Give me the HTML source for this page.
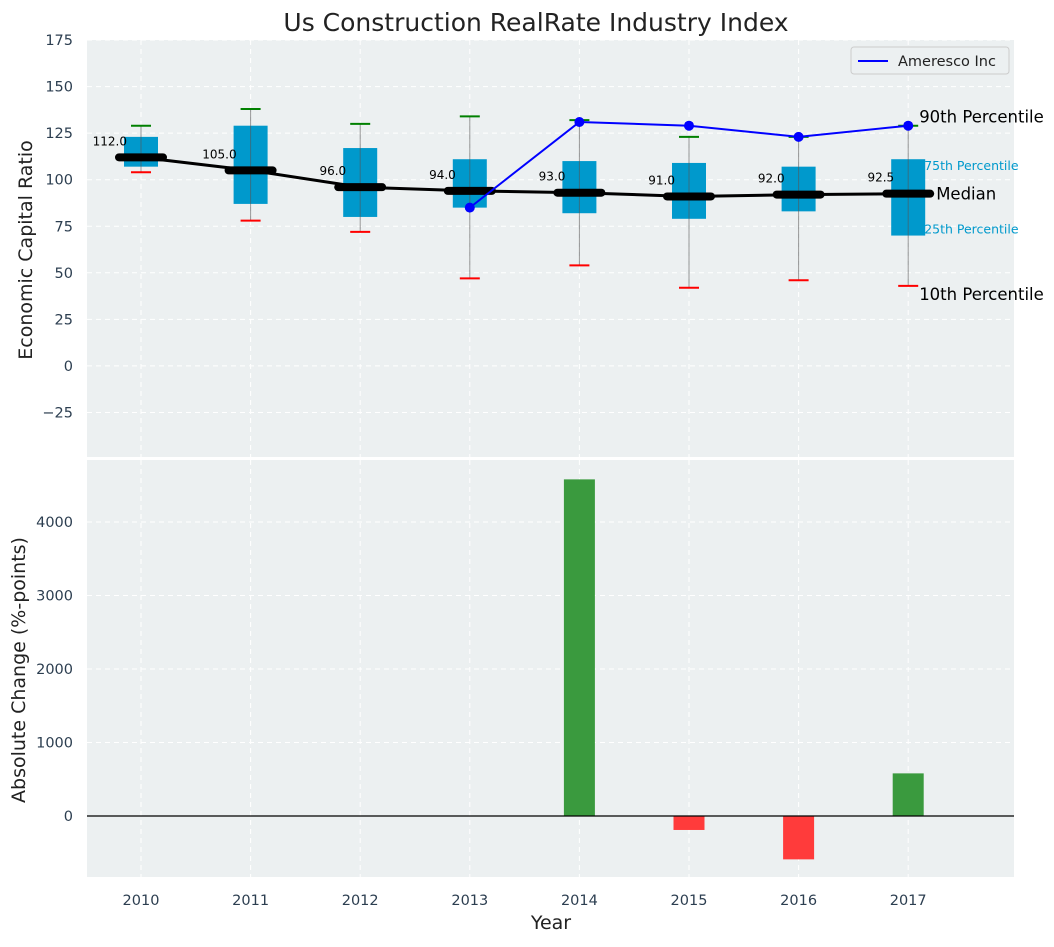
<!DOCTYPE html>
<html><head><meta charset="utf-8"><style>
body{margin:0;background:#fff;font-family:"Liberation Sans","DejaVu Sans",sans-serif}
svg text{font-family:"DejaVu Sans","Liberation Sans",sans-serif}
</style></head><body>
<svg id="chart" width="1054" height="942" xmlns="http://www.w3.org/2000/svg">
<text x="536" y="31" text-anchor="middle" font-size="25" fill="#222">Us Construction RealRate Industry Index</text>
<rect x="87" y="40" width="927" height="417" fill="#ecf0f1"/>
<rect x="87" y="460" width="927" height="417" fill="#ecf0f1"/>
<g id="topg"></g><g id="botg"></g>
<text x="32" y="250" transform="rotate(-90 32 250)" text-anchor="middle" font-size="19" fill="#222">Economic Capital Ratio</text>
<text x="25" y="670" transform="rotate(-90 25 670)" text-anchor="middle" font-size="19" fill="#222">Absolute Change (%-points)</text>
<text x="551" y="929" text-anchor="middle" font-size="19" fill="#222">Year</text>
<g>
<rect x="851" y="47" width="158" height="27" rx="3" fill="#ecf0f1" stroke="#ccc"/>
<line x1="858" y1="61" x2="888" y2="61" stroke="blue" stroke-width="2"/>
<text x="898" y="66" font-size="14.5" fill="#222">Ameresco Inc</text>
</g>
</svg>
<script>
const years=["2010","2011","2012","2013","2014","2015","2016","2017"];
const p10=[104,78,72,47,54,42,46,43];
const q1=[107,87,80,85,82,79,83,70];
const medians=[112,105,96,94,93,91,92,92.5];
const q3=[123,129,117,111,110,109,107,111];
const p90=[129,138,130,134,132,123,123,129];
const amerescoYears=[3,4,5,6,7];
const amerescoVals=[85,131,129,123,129];
const changeYears=[4,5,6,7];
const changes=[4580,-190,-590,580];
const topTicks=[-25,0,25,50,75,100,125,150,175];
const botTicks=[0,1000,2000,3000,4000];

const NS="http://www.w3.org/2000/svg";
const X=i=>141+109.6*i;
const YT=v=>365.9-v*1.862;
const YB=v=>816-v*0.0735;
function mk(p,t,a){const e=document.createElementNS(NS,t);for(const k in a)e.setAttribute(k,a[k]);p.appendChild(e);return e;}
const topG=document.getElementById('topg'),botG=document.getElementById('botg');
years.forEach((y,i)=>{
 let g=mk(topG,'line',{x1:X(i),x2:X(i),y1:40,y2:457,stroke:'#fff','stroke-dasharray':'5,4','stroke-width':1});
 
 g=mk(botG,'line',{x1:X(i),x2:X(i),y1:460,y2:877,stroke:'#fff','stroke-dasharray':'5,4','stroke-width':1});
 
 const t=mk(botG,'text',{x:X(i),y:905,'text-anchor':'middle','font-size':14.5,fill:'#2c3e50'});t.textContent=y;
 
});
topTicks.forEach(v=>{
 const g=mk(topG,'line',{x1:87,x2:1014,y1:YT(v),y2:YT(v),stroke:'#fff','stroke-dasharray':'5,4'});
 
 const t=mk(topG,'text',{x:73,y:YT(v)+5,'text-anchor':'end','font-size':14.5,fill:'#2c3e50'});t.textContent=v<0?'\u2212'+(-v):v;
 
});
botTicks.forEach(v=>{
 const g=mk(botG,'line',{x1:87,x2:1014,y1:YB(v),y2:YB(v),stroke:'#fff','stroke-dasharray':'5,4'});
 
 const t=mk(botG,'text',{x:73,y:YB(v)+5,'text-anchor':'end','font-size':14.5,fill:'#2c3e50'});t.textContent=v;
 
});
mk(topG,'line',{x1:87,x2:1014,y1:458.5,y2:458.5,stroke:'#fff','stroke-width':2});
years.forEach((y,i)=>{
 const x=X(i);
 let b=mk(topG,'rect',{x:x-17,y:YT(q3[i]),width:34,height:YT(q1[i])-YT(q3[i]),fill:'#0099cc'});
 
 let w=mk(topG,'line',{x1:x,x2:x,y1:YT(p90[i]),y2:YT(p10[i]),stroke:'#555','stroke-opacity':0.6,'stroke-width':1});
 
 let c=mk(topG,'line',{x1:x-10,x2:x+10,y1:YT(p90[i]),y2:YT(p90[i]),stroke:'green','stroke-width':2});
 
 c=mk(topG,'line',{x1:x-10,x2:x+10,y1:YT(p10[i]),y2:YT(p10[i]),stroke:'red','stroke-width':2});
 
});
let pts=medians.map((v,i)=>X(i)+','+YT(v)).join(' ');
let ml=mk(topG,'polyline',{points:pts,fill:'none',stroke:'#000','stroke-width':3});

medians.forEach((v,i)=>{
 const x=X(i);
 let m=mk(topG,'line',{x1:x-22,x2:x+22,y1:YT(v),y2:YT(v),stroke:'#000','stroke-width':8,'stroke-linecap':'round'});
 
 let t=mk(topG,'text',{x:x-14,y:YT(v)-12,'text-anchor':'end','font-size':12,fill:'#000'});t.textContent=v.toFixed(1);
 
});
pts=amerescoVals.map((v,k)=>X(amerescoYears[k])+','+YT(v)).join(' ');
let al=mk(topG,'polyline',{points:pts,fill:'none',stroke:'blue','stroke-width':2});

amerescoVals.forEach((v,k)=>{
 const d=mk(topG,'circle',{cx:X(amerescoYears[k]),cy:YT(v),r:5,fill:'blue'});
 
});
const L=7,xl=X(L);
[[p90[L],'90th Percentile',16.5,'#000',xl+11,-3],[q3[L],'75th Percentile',12.5,'#0099cc',xl+16,11],[medians[L],'Median',16.5,'#000',xl+28,6],[q1[L],'25th Percentile',12.5,'#0099cc',xl+16,-2],[p10[L],'10th Percentile',16.5,'#000',xl+11,14]].forEach(a=>{
 const t=mk(topG,'text',{x:a[4],y:YT(a[0])+a[5],'font-size':a[2],fill:a[3]});t.textContent=a[1];
 
});
changes.forEach((v,k)=>{
 const x=X(changeYears[k]);
 const r=mk(botG,'rect',{x:x-15.5,y:Math.min(YB(v),YB(0)),width:31,height:Math.abs(YB(v)-YB(0)),fill:v>=0?'#3a9a3e':'#ff3b3b'});
 
});
mk(botG,'line',{x1:87,x2:1014,y1:YB(0),y2:YB(0),stroke:'#000','stroke-width':1.2});
</script>
</body></html>
